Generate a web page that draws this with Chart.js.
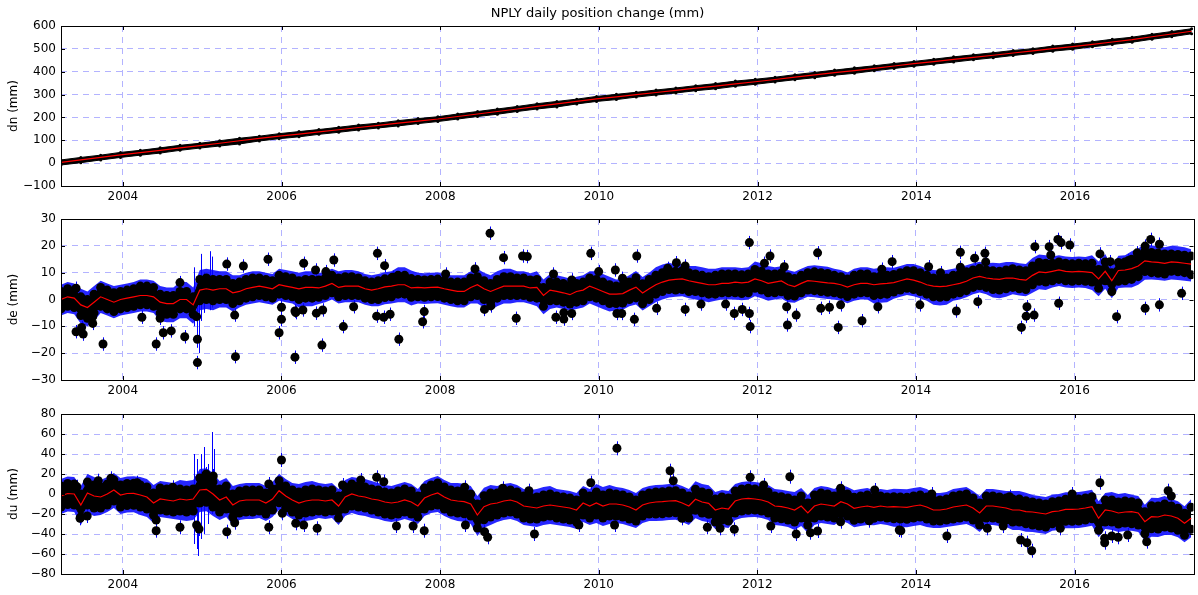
<!DOCTYPE html>
<html>
<head>
<meta charset="utf-8">
<title>NPLY daily position change</title>
<script src="https://cdn.jsdelivr.net/npm/chart.js@4.4.1/dist/chart.umd.min.js"></script>
<style>
  body { margin: 0; background: #fff; }
  #wrap { position: relative; width: 1198px; height: 595px; }
  canvas { position: absolute; left: 0; }
</style>
</head>
<body>
<div id="wrap">
  <canvas id="dnChart" width="1198" height="205" style="top:0"></canvas>
  <canvas id="deChart" width="1198" height="195" style="top:205px"></canvas>
  <canvas id="duChart" width="1198" height="195" style="top:400px"></canvas>
</div>
<script>
const START = 2003.22;
const X_MAX = 2017.5;
const yearTicks = [2004, 2006, 2008, 2010, 2012, 2014, 2016];

// ---- north (dn), quarterly samples of the running mean (mm)
const dnMean = [
  3, 14, 25,
  36, 46, 56, 67,
  77, 87, 98, 108,
  118, 127, 137, 146,
  156, 165, 175, 184,
  193, 204, 215, 226,
  237, 248, 259, 270,
  281, 290, 300, 309,
  318, 328, 337, 347,
  356, 366, 376, 386,
  396, 405, 415, 425,
  435, 444, 454, 463,
  472, 482, 491, 501,
  510, 520, 530, 540,
  553, 565, 577
];
// scatter band around the mean, quarterly (mm)
const dnUp = [
  11, 11, 10,  11, 10, 11, 11,  10, 11, 11, 10,  11, 11, 10, 11,  11, 10, 11, 11,
  10, 11, 11, 11,  11, 12, 11, 10,  11, 11, 10, 11,  11, 11, 11, 12,  11, 10, 11, 11,
  11, 12, 11, 11,  10, 11, 11, 11,  11, 11, 10, 11,  11, 11, 12, 11,  11, 11, 11
];
const dnDown = [
  11, 12, 11,  11, 11, 12, 11,  11, 12, 14, 11,  11, 12, 11, 11,  11, 11, 12, 11,
  11, 11, 11, 12,  11, 11, 13, 11,  11, 12, 11, 11,  11, 11, 12, 11,  11, 11, 11, 12,
  11, 12, 11, 11,  11, 11, 12, 11,  11, 11, 11, 11,  12, 11, 11, 11,  11, 12, 11
];

// ---- east (de), monthly samples of the running mean (mm)
const deMean = [
  0, 1, 0.5, -2, -3, -1, 1, 0, -1,
  0, 0.5, 1, 1.5, 1.5, 1, -1, -1.5, -1.5, 0, 0, -2,
  3.5, 4, 3.5, 4, 4, 2.5, 3, 4, 4.5, 5, 4.5, 4,
  5.5, 5, 4.5, 4, 4.5, 4.5, 4.3, 5, 6, 4.5, 5, 5,
  5, 4, 3.5, 4, 4.7, 5, 5.5, 5.5, 4.3, 4.5, 4.3, 4.5,
  4.6, 4, 3.5, 3, 3, 4.5, 5.5, 4, 3, 4, 5, 5,
  5, 5, 4.3, 4.5, 1.5, 3.5, 3, 2.5, 1.8, 3, 3.5, 5,
  4, 3, 2, 2, 2.2, 3.5, 4.6, 2.4, 4, 5.5, 6.5, 7.2,
  7.5, 7.7, 7, 6.5, 6, 5.5, 5.5, 6, 6, 6.5, 6.2, 6.5,
  7.7, 7, 6, 6.5, 6.9, 5.5, 4.8, 6, 7, 6.8, 6.5, 6.2,
  6, 5.5, 4.6, 5.5, 6, 6, 5.5, 5.8, 6, 6.3, 7, 7.7,
  7.2, 6.5, 5.5, 5, 4.8, 5, 5.5, 6, 6.8, 8, 8.6, 8,
  7.7, 7.5, 8, 8, 7.5, 7.2, 9, 10.3, 10, 10.5, 11, 10.5,
  10.3, 10.5, 10.3, 10, 7.7, 10.5, 7, 10.8, 11, 11.5, 12.5, 14.4,
  14, 13.8, 13.5, 14, 13.8, 13.5, 13.2
];
const deUp = [
  3, 3, 3.5,  3, 3.5, 3, 3,  4, 3.5, 3.5, 3,  3.5, 3, 3, 3.5,  3, 3, 3.5, 3,
  3, 3.5, 3, 3.5,  3, 3, 3.5, 3,  3.5, 3, 3.5, 3.5,  3, 3, 3.5, 3,  3.5, 3, 3, 3.5,
  3, 3.5, 3, 3,  3.5, 3, 3.5, 3,  3, 3.5, 3.5, 3,  3, 3.5, 3, 3.5,  3.5, 3, 3
];
const deDown = [
  3.5, 4, 3.5,  3.5, 3.5, 4, 3.5,  4, 4, 3.5, 3.5,  3.5, 4, 3.5, 3.5,  3.5, 4, 3.5, 3.5,
  3.5, 3.5, 4, 3.5,  3.5, 4, 3.5, 4,  3.5, 3.5, 4, 3.5,  4, 3.5, 3.5, 4,  3.5, 4, 3.5, 3.5,
  3.5, 3.5, 4, 3.5,  3.5, 4, 3.5, 3.5,  4, 3.5, 3.5, 3.5,  3.5, 3.5, 4, 4,  4, 3.5, 4
];
// reach of the blue error bars beyond the band edge line, quarterly (mm)
const deBlue = [
  2.5, 3, 2.5,  2.5, 2.5, 3, 3.5,  3.5, 3, 2.5, 2.5,  2.5, 3, 2.5, 2.5,  2.5, 2.5, 3, 2.5,
  2.5, 2.5, 3, 3,  2.5, 3, 2.5, 2.5,  3, 2.5, 2.5, 3,  2.5, 3, 2.5, 2.5,  3, 2.5, 2.5, 2.5,
  2.5, 2.5, 3, 2.5,  2.5, 3, 2.5, 2.5,  3, 2.5, 3, 2.5,  2.5, 3, 2.5, 3,  2.5, 3, 2.5
];
const deOutX = [
  2003.41, 2003.41, 2003.48, 2003.50, 2003.62, 2003.62, 2003.75, 2004.24, 2004.42, 2004.47,
  2004.51, 2004.61, 2004.72, 2004.78, 2004.94, 2004.94, 2004.93, 2005.31, 2005.41, 2005.42,
  2005.52, 2005.83, 2005.97, 2006.00, 2006.00, 2006.17, 2006.17, 2006.28, 2006.18, 2006.27,
  2006.43, 2006.56, 2006.51, 2006.44, 2006.52, 2006.66, 2006.78, 2006.91, 2007.21, 2007.30,
  2007.20, 2007.29, 2007.37, 2007.40, 2007.48, 2007.78, 2007.80, 2008.07, 2008.44, 2008.63,
  2008.80, 2008.96, 2009.04, 2009.10, 2008.64, 2008.56, 2009.43, 2009.46, 2009.56, 2009.56,
  2009.66, 2009.66, 2009.90, 2010.00, 2010.21, 2010.30, 2010.23, 2010.29, 2010.45, 2010.48,
  2010.73, 2010.87, 2010.98, 2011.09, 2011.09, 2011.29, 2011.60, 2011.71, 2011.81, 2011.90,
  2011.90, 2011.91, 2012.09, 2012.16, 2012.34, 2012.37, 2012.38, 2012.49, 2012.76, 2012.80,
  2012.91, 2013.02, 2013.05, 2013.32, 2013.52, 2013.57, 2013.70, 2014.05, 2014.16, 2014.31,
  2014.51, 2014.56, 2014.56, 2014.74, 2014.78, 2014.87, 2014.88, 2015.33, 2015.39, 2015.40,
  2015.49, 2015.50, 2015.68, 2015.70, 2015.79, 2015.83, 2015.80, 2015.94, 2016.32, 2016.45,
  2016.53, 2016.68, 2016.79, 2016.89, 2016.89, 2016.96, 2017.07, 2017.07, 2017.35
];
const deOutY = [
  4.2, -12, -10.4, -12.9, -8.9, -6.4, -16.6, -6.6, -16.6, -7,
  -12.4, -11.7, 6.3, -13.9, -23.5, -14.8, -6.4, 13.2, -5.8, -21.3,
  12.5, 15, -12.4, -7.4, -2.9, -21.5, -4.3, 13.5, -4.9, -3.9,
  11, 10.4, -17, -5.1, -3.9, 14.7, -10.1, -2.7, 17.2, 12.6,
  -6.2, -6.6, -5.5, 8.3, -14.8, -8.3, -4.5, 9.5, 11.4, 24.7,
  15.6, -7, 16.2, 16, -2.4, -3.7, 9.5, -6.6, -4.9, -7.3,
  -5.2, 7.3, 17.2, 10.4, 11, 7.9, -5.2, -5.2, -7.4, 16.2,
  -3.3, 11.6, 13.7, 12.5, -3.7, -1.7, -1.7, -5.2, -3.7, 21.2,
  -5.2, -10.1, 13.5, 16.2, 12.2, -2.7, -9.5, -5.8, 17.4, -3.3,
  -2.9, -10.4, -2, -7.9, -2.7, 11.3, 14.1, -2, 12.2, 10,
  -4.3, 17.6, 12, 15.4, -0.8, 17.2, 14, -10.4, -6.2, -2.7,
  -5.8, 19.7, 19.7, 16.6, 22.4, 21.2, -1.4, 20.3, 17, 14.1,
  -6.4, 14.5, 17.4, 19.9, -3.3, 22.4, 20.6, -2, 2.3
];
const deErr = 2.5;
// long error bars around the 2005 antenna change
const deSpikeX = [2004.90, 2004.93, 2004.96, 2004.99, 2005.02, 2005.10, 2005.13];
const deSpikeLo = [-10, -18, -20, -8, -5, -4, -3];
const deSpikeHi = [12, 6, 4, 17, 10, 18, 16];

// ---- up (du), monthly samples of the running mean (mm)
const duMean = [
  -2, 0.5, 0, -11, 1, -2, -3, 0, 4,
  -1, 0.5, 0.7, -1, -3, -9, -5, -6, -7, -5, -6, -5,
  4, 4.7, 0, -6, -3, -11, -7, -6, -6, -6, -9, -5,
  3.3, -2, -6, -9, -7, -6, -6, -7, -6, -12, -3, 0,
  -2, -3, -5, -6, -8, -9, -8, -6, -8, -12, -4, -1,
  1, -3, -6, -7, -7.7, -10, -21, -12.7, -10, -9, -7, -6,
  -8, -12, -13, -14, -12, -11, -12, -13, -14, -16, -9, -12,
  -9, -12, -10, -10, -11, -13, -16, -11, -9, -8, -7.7, -7,
  -6.7, -9, -12, -5.3, -8, -9.3, -16, -14, -15, -7, -5, -4.3,
  -5, -6, -8, -12, -12.7, -14, -16, -12, -19, -12, -10, -11,
  -12, -7.7, -10, -14.3, -13, -12, -13.3, -12, -13, -12.7, -13, -13.3,
  -12, -11, -13, -16, -16, -15, -13, -12, -11, -14, -19, -12,
  -12, -13, -14, -16, -16, -17.7, -18, -19, -20, -17.7, -17, -15.3,
  -15.3, -15, -14, -12.7, -24.3, -16, -17, -19, -18, -17.7, -19, -27.7,
  -22.7, -23, -21, -22, -24.3, -29.3, -24.3
];
const duUp = [
  10, 11, 10,  10, 10, 11, 10,  12, 11, 10, 10,  10, 11, 10, 10,  10, 10, 11, 10,
  10, 10, 11, 10,  10, 11, 10, 10,  11, 10, 10, 10,  10, 10, 11, 10,  10, 10, 10, 11,
  10, 11, 10, 10,  10, 10, 11, 10,  10, 11, 10, 10,  10, 10, 11, 10,  11, 10, 11
];
const duDown = [
  11, 12, 11,  12, 12, 11, 12,  13, 12, 12, 11,  12, 12, 11, 12,  11, 12, 12, 11,
  12, 12, 13, 12,  12, 11, 12, 12,  12, 12, 11, 12,  12, 11, 12, 12,  11, 12, 12, 12,
  12, 12, 11, 12,  12, 11, 12, 12,  12, 12, 13, 12,  12, 12, 11, 12,  12, 12, 11
];
const duBlue = [
  7, 8, 7,  7, 8, 7, 9,  9, 8, 7, 7,  7, 8, 7, 7,  8, 7, 7, 7,
  7, 8, 8, 7,  7, 8, 7, 7,  8, 7, 7, 7,  7, 8, 7, 7,  7, 7, 8, 7,
  7, 7, 7, 8,  8, 7, 7, 7,  7, 8, 7, 7,  7, 7, 8, 7,  8, 7, 8
];
const duOutX = [
  2003.42, 2003.46, 2003.55, 2003.69, 2003.85, 2004.18, 2004.42, 2004.42, 2004.63, 2004.72,
  2004.93, 2004.96, 2005.05, 2005.14, 2005.31, 2005.41, 2005.84, 2005.84, 2006.00, 2006.01,
  2006.18, 2006.28, 2006.45, 2006.77, 2007.00, 2007.20, 2007.29, 2007.45, 2007.66, 2007.80,
  2008.31, 2008.32, 2008.56, 2008.60, 2008.79, 2009.12, 2009.19, 2009.75, 2009.90, 2010.23,
  2010.20, 2010.90, 2010.94, 2011.05, 2011.37, 2011.53, 2011.71, 2011.91, 2012.08, 2012.17,
  2012.41, 2012.49, 2012.67, 2012.76, 2013.05, 2013.05, 2013.41, 2013.48, 2013.79, 2013.81,
  2014.20, 2014.39, 2014.90, 2015.10, 2015.18, 2015.32, 2015.40, 2015.46, 2015.82, 2015.97,
  2016.32, 2016.38, 2016.38, 2016.47, 2016.55, 2016.67, 2016.91, 2017.18, 2017.22
];
const duOutY = [
  7.3, -24.3, -22, 13.3, 15.7, 11.3, -36.7, -26, 6.7, -33.3,
  -31, -35, 20, 18, -37.7, -28.7, -33.3, 10, 34, -19.3,
  -29.3, -31, -34.3, 9, 14, 16.7, 12.3, -32, -32, -36.7,
  6.7, -31, -37.7, -43.3, 5.7, 3.3, -40, -31, 11.3, 45.7,
  -31, 23.3, 13.3, -24.3, -33.3, -34.3, -35.3, 16.7, 9, -32,
  17.3, -40, -38.7, -37, 5.7, -27.7, -26.7, 4, -36, -36.7,
  0, -42, -34.3, -32, -2.7, -46, -48.7, -56.7, -34.3, 0,
  11.3, -44.3, -48.7, -42, -43.3, -41, -47.7, 3.3, -2
];
const duErr = 7;
const duSpikeX = [2004.90, 2004.93, 2004.95, 2004.98, 2005.02, 2005.07, 2005.13, 2005.15];
const duSpikeLo = [-50, -55, -62, -45, -40, -30, -20, -15];
const duSpikeHi = [40, 35, 20, 40, 47, 30, 62, 45];

Chart.defaults.font.family = "'DejaVu Sans', sans-serif";
Chart.defaults.font.size = 12;
Chart.defaults.color = '#000';

// frame round the axes plus inward tick marks
const framePlugin = {
    id: 'frame',
    afterDatasetsDraw(chart) {
        const { ctx, chartArea: a, scales } = chart;
        ctx.save();
        ctx.strokeStyle = '#000';
        ctx.lineWidth = 1;
        ctx.beginPath();
        scales.x.ticks.forEach(t => {
            const px = Math.round(scales.x.getPixelForValue(t.value)) + 0.5;
            ctx.moveTo(px, a.bottom); ctx.lineTo(px, a.bottom - 4);
            ctx.moveTo(px, a.top); ctx.lineTo(px, a.top + 4);
        });
        scales.y.ticks.forEach(t => {
            const py = Math.round(scales.y.getPixelForValue(t.value)) + 0.5;
            ctx.moveTo(a.left, py); ctx.lineTo(a.left + 4, py);
            ctx.moveTo(a.right, py); ctx.lineTo(a.right - 4, py);
        });
        ctx.stroke();
        ctx.strokeRect(Math.round(a.left) + 0.5, Math.round(a.top) + 0.5,
            Math.round(a.right - a.left), Math.round(a.bottom - a.top));
        ctx.restore();
    }
};

// blue vertical error bars
const errorBarPlugin = {
    id: 'errorBars',
    beforeDatasetsDraw(chart, args, opts) {
        if (!opts.x || !opts.x.length) return;
        const { ctx, chartArea: a, scales: { x, y } } = chart;
        ctx.save();
        ctx.beginPath();
        ctx.rect(a.left, a.top, a.right - a.left, a.bottom - a.top);
        ctx.clip();
        ctx.strokeStyle = '#0000ff';
        ctx.lineWidth = 1;
        ctx.beginPath();
        opts.x.forEach((v, i) => {
            const px = Math.round(x.getPixelForValue(v)) + 0.5;
            ctx.moveTo(px, y.getPixelForValue(opts.lo[i]));
            ctx.lineTo(px, y.getPixelForValue(opts.hi[i]));
        });
        ctx.stroke();
        ctx.restore();
    }
};

function makePanel(id, cfg) {
    const pts = f => cfg.mean.map((m, i) => ({
        x: START + i * cfg.step,
        y: f(m, Math.floor(i / cfg.per))
    }));

    const datasets = [];
    if (cfg.blue) {
        datasets.push({
            data: pts((m, q) => m + cfg.up[q] + cfg.blue[q]),
            fill: '+1', backgroundColor: 'rgba(0,0,255,0.85)',
            borderColor: 'transparent', borderWidth: 0, pointRadius: 0, order: 5
        });
        datasets.push({
            data: pts((m, q) => m - cfg.down[q] - cfg.blue[q]),
            fill: false, borderColor: 'transparent', borderWidth: 0, pointRadius: 0, order: 5
        });
    }
    datasets.push({
        data: pts((m, q) => m + cfg.up[q]),
        fill: '+1', backgroundColor: '#000', borderColor: '#000', borderWidth: 1,
        pointRadius: cfg.dot, pointBackgroundColor: '#000', pointBorderWidth: 0, order: 4
    });
    datasets.push({
        data: pts((m, q) => m - cfg.down[q]),
        fill: false, borderColor: '#000', borderWidth: 1,
        pointRadius: cfg.dot, pointBackgroundColor: '#000', pointBorderWidth: 0, order: 4
    });
    if (cfg.outX) {
        datasets.push({
            data: cfg.outX.map((x, i) => ({ x, y: cfg.outY[i] })),
            showLine: false, pointRadius: 4.5, pointBackgroundColor: '#000',
            pointBorderWidth: 0, order: 2
        });
    }
    datasets.push({
        data: pts(m => m),
        fill: false, borderColor: '#ff0000', borderWidth: 1.2, pointRadius: 0, order: 1
    });

    // error bars: outliers +/- err, plus the long spikes
    const bars = { x: [], lo: [], hi: [] };
    if (cfg.outX) {
        cfg.outX.forEach((x, i) => {
            bars.x.push(x);
            bars.lo.push(cfg.outY[i] - cfg.err);
            bars.hi.push(cfg.outY[i] + cfg.err);
        });
    }
    if (cfg.spikeX) {
        cfg.spikeX.forEach((x, i) => {
            bars.x.push(x);
            bars.lo.push(cfg.spikeLo[i]);
            bars.hi.push(cfg.spikeHi[i]);
        });
    }

    return new Chart(document.getElementById(id), {
        type: 'line',
        data: { datasets },
        plugins: [framePlugin, errorBarPlugin],
        options: {
            responsive: false,
            animation: false,
            events: [],
            layout: { padding: { top: cfg.padTop, right: 3, left: 0, bottom: 0 } },
            elements: { line: { tension: 0 } },
            plugins: {
                legend: { display: false },
                tooltip: { enabled: false },
                filler: { propagate: false },
                errorBars: bars,
                title: {
                    display: !!cfg.title,
                    text: cfg.title || '',
                    font: { size: 13, weight: 'normal' },
                    color: '#000',
                    padding: { top: 6, bottom: 4.4 }
                }
            },
            scales: {
                x: {
                    type: 'linear',
                    min: START,
                    max: X_MAX,
                    afterBuildTicks: s => { s.ticks = yearTicks.map(v => ({ value: v })); },
                    afterFit: s => { s.height = cfg.xH; },
                    ticks: {
                        autoSkip: false, maxRotation: 0, padding: 4,
                        callback: v => String(v)
                    },
                    grid: { color: '#b3b3ff', lineWidth: 1, drawTicks: false },
                    border: { display: false, dash: [6, 5] }
                },
                y: {
                    min: cfg.yMin,
                    max: cfg.yMax,
                    afterFit: s => { s.width = 61; },
                    ticks: {
                        stepSize: cfg.yStep, padding: 5,
                        callback: v => String(v).replace('-', '\u2212')
                    },
                    grid: { color: '#b3b3ff', lineWidth: 1, drawTicks: false },
                    border: { display: false, dash: [6, 5] },
                    title: {
                        display: true, text: cfg.label,
                        font: { size: 12 }, padding: { top: 7, bottom: 0 }
                    }
                }
            }
        }
    });
}

makePanel('dnChart', {
    mean: dnMean, up: dnUp, down: dnDown, step: 0.25, per: 1, dot: 1.5,
    yMin: -100, yMax: 600, yStep: 100, label: 'dn (mm)',
    title: 'NPLY daily position change (mm)', padTop: 0, xH: 19
});

makePanel('deChart', {
    mean: deMean, up: deUp, down: deDown, blue: deBlue, step: 1 / 12, per: 3, dot: 4.5,
    outX: deOutX, outY: deOutY, err: deErr,
    spikeX: deSpikeX, spikeLo: deSpikeLo, spikeHi: deSpikeHi,
    yMin: -30, yMax: 30, yStep: 10, label: 'de (mm)', padTop: 14, xH: 20
});

makePanel('duChart', {
    mean: duMean, up: duUp, down: duDown, blue: duBlue, step: 1 / 12, per: 3, dot: 4.5,
    outX: duOutX, outY: duOutY, err: duErr,
    spikeX: duSpikeX, spikeLo: duSpikeLo, spikeHi: duSpikeHi,
    yMin: -80, yMax: 80, yStep: 20, label: 'du (mm)', padTop: 14, xH: 21
});
</script>
</body>
</html>
